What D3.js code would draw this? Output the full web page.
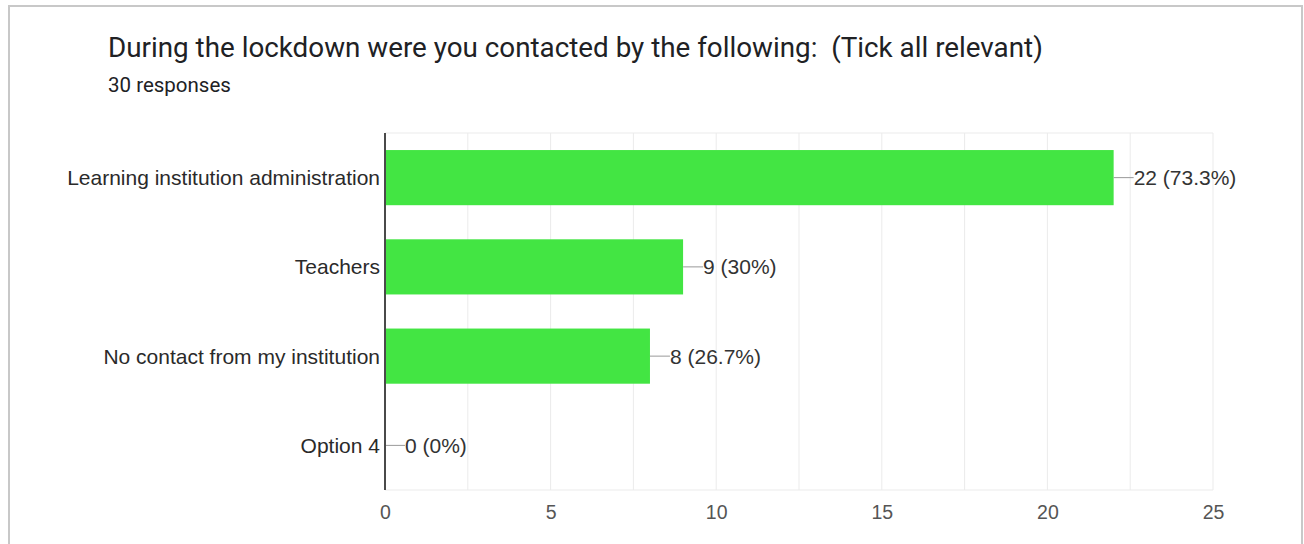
<!DOCTYPE html>
<html>
<head>
<meta charset="utf-8">
<script src="https://cdn.jsdelivr.net/npm/d3@7"></script>
<style>
  html, body { margin: 0; padding: 0; background: #fff; }
  svg { display: block; }
</style>
</head>
<body>
<svg id="chart" width="1304" height="544"></svg>
<script>
// Survey answers and their counts
const categories = [
  "Learning institution administration",
  "Teachers",
  "No contact from my institution",
  "Option 4"
];
const counts = [22, 9, 8, 0];
const percentLabels = ["73.3%", "30%", "26.7%", "0%"];
const tickValues = [0, 5, 10, 15, 20, 25];
const gridValues = [2.5, 5, 7.5, 10, 12.5, 15, 17.5, 20, 22.5, 25];
const titleText = "During the lockdown were you contacted by the following:  (Tick all relevant)";
const subtitleText = "30 responses";

const svg = d3.select("#chart");

// Card outline
svg.append("rect")
  .attr("x", 9).attr("y", 6)
  .attr("width", 1293).attr("height", 560)
  .attr("fill", "#fff")
  .attr("stroke", "#c8c8c8")
  .attr("stroke-width", 2);

svg.append("text")
  .attr("x", 108).attr("y", 57)
  .attr("font-family", "Roboto, sans-serif")
  .attr("font-size", 27.8)
  .attr("fill", "#202124")
  .style("white-space", "pre")
  .text(titleText);

svg.append("text")
  .attr("x", 108).attr("y", 92)
  .attr("font-family", "Roboto, sans-serif")
  .attr("font-size", 20.5)
  .attr("fill", "#202124")
  .text(subtitleText);

const plot = { left: 385, right: 1213, top: 133, bottom: 490 };

const x = d3.scaleLinear().domain([0, 25]).range([plot.left, plot.right]);
const y = d3.scaleBand()
  .domain(categories)
  .range([plot.top, plot.bottom])
  .paddingInner(0.382)
  .paddingOuter(0.191);

const labelFont = "'Liberation Sans', Arial, sans-serif";

// Gridlines
const g = svg.append("g");
g.selectAll("line.grid")
  .data(gridValues)
  .join("line")
  .attr("class", "grid")
  .attr("x1", d => x(d)).attr("x2", d => x(d))
  .attr("y1", plot.top).attr("y2", plot.bottom)
  .attr("stroke", "#ebebeb").attr("stroke-width", 1);

g.append("line")
  .attr("x1", plot.left).attr("x2", plot.right)
  .attr("y1", plot.top).attr("y2", plot.top)
  .attr("stroke", "#ebebeb").attr("stroke-width", 1);
g.append("line")
  .attr("x1", plot.left).attr("x2", plot.right)
  .attr("y1", plot.bottom).attr("y2", plot.bottom)
  .attr("stroke", "#ebebeb").attr("stroke-width", 1);

// Bars
const data = categories.map((c, i) => ({ c, v: counts[i], p: percentLabels[i] }));
g.selectAll("rect.bar")
  .data(data)
  .join("rect")
  .attr("class", "bar")
  .attr("x", x(0))
  .attr("y", d => y(d.c))
  .attr("width", d => x(d.v) - x(0))
  .attr("height", y.bandwidth())
  .attr("fill", "#43e543");

// Value annotations with leader lines
const mid = d => y(d.c) + y.bandwidth() / 2;
g.selectAll("line.lead")
  .data(data)
  .join("line")
  .attr("class", "lead")
  .attr("x1", d => x(d.v)).attr("x2", d => x(d.v) + 20)
  .attr("y1", d => mid(d)).attr("y2", d => mid(d))
  .attr("stroke", "#999").attr("stroke-width", 1);

g.selectAll("text.val")
  .data(data)
  .join("text")
  .attr("class", "val")
  .attr("x", d => x(d.v) + 20)
  .attr("y", d => mid(d))
  .attr("dy", "0.36em")
  .attr("font-family", labelFont)
  .attr("font-size", 21)
  .attr("fill", "#333")
  .text(d => `${d.v} (${d.p})`);

// Category axis
const yAxis = d3.axisLeft(y).tickSize(0).tickPadding(5);
const ya = svg.append("g")
  .attr("transform", `translate(${plot.left},0)`)
  .call(yAxis);
ya.select(".domain").remove();
ya.selectAll("text")
  .attr("font-family", labelFont)
  .attr("font-size", 21)
  .attr("dy", "0.36em")
  .attr("fill", "#2a2a2a");

svg.append("line")
  .attr("x1", plot.left).attr("x2", plot.left)
  .attr("y1", plot.top).attr("y2", plot.bottom)
  .attr("stroke", "#4a4a4a").attr("stroke-width", 2);

// Value axis
const xAxis = d3.axisBottom(x).tickValues(tickValues).tickSize(0).tickPadding(15);
const xa = svg.append("g")
  .attr("transform", `translate(0,${plot.bottom})`)
  .call(xAxis);
xa.select(".domain").remove();
xa.selectAll("text")
  .attr("font-family", labelFont)
  .attr("font-size", 19.5)
  .attr("fill", "#555");
</script>
</body>
</html>
